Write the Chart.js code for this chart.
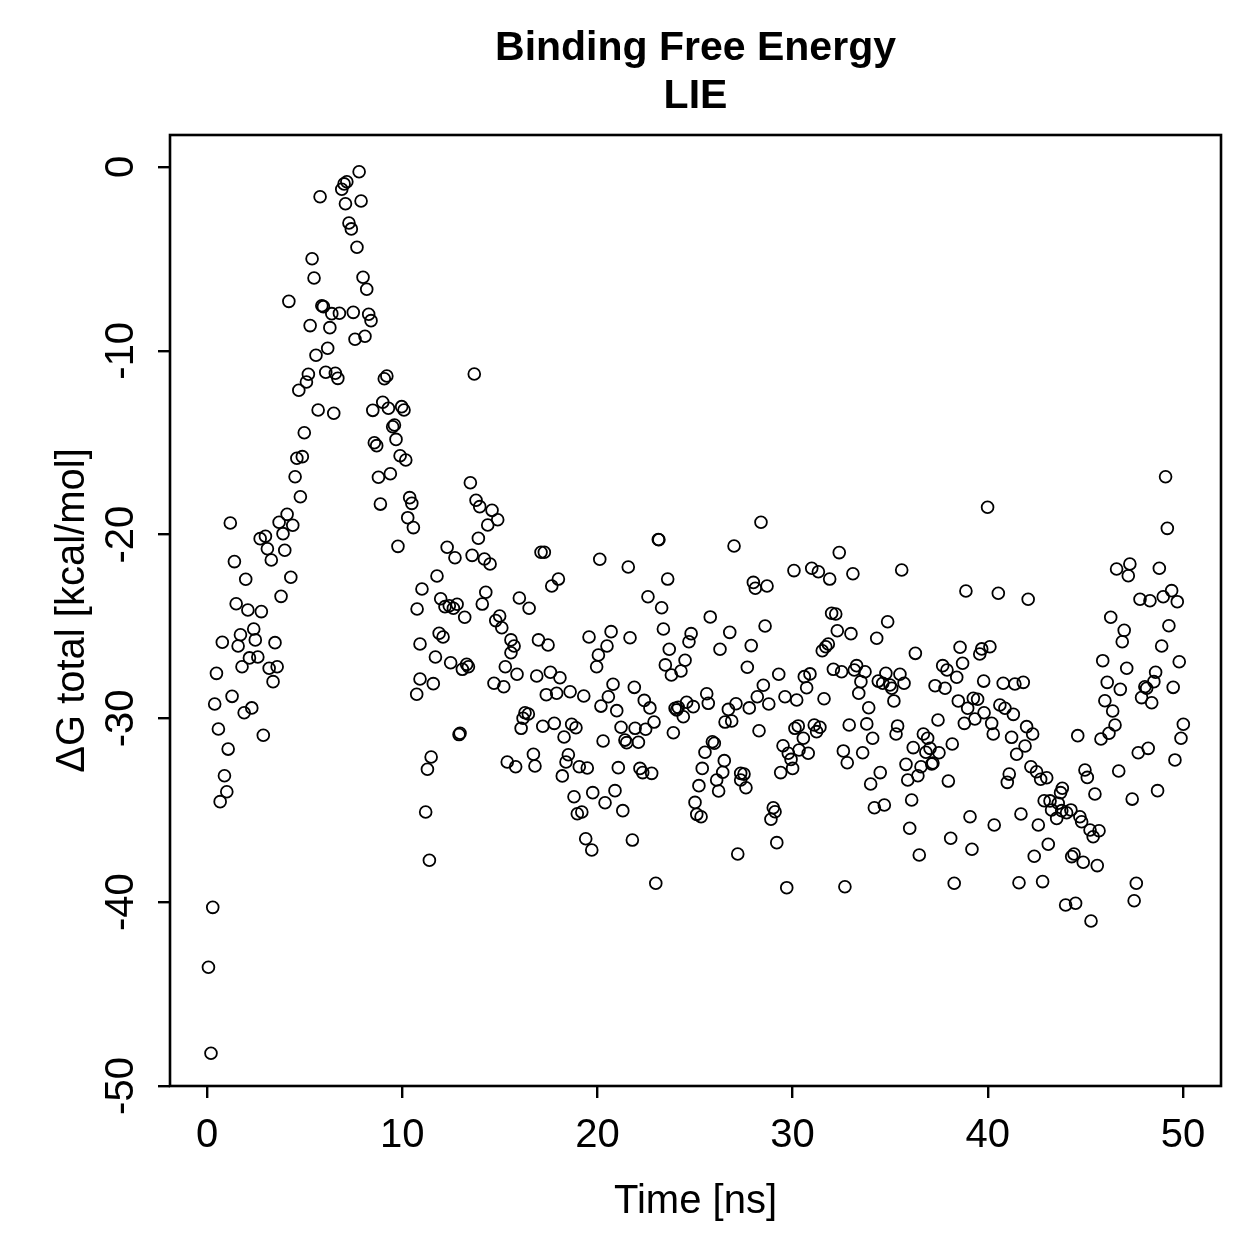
<!DOCTYPE html>
<html><head><meta charset="utf-8">
<script src="https://cdn.jsdelivr.net/npm/chart.js@4/dist/chart.umd.min.js"></script>
<style>html,body{margin:0;padding:0;background:#fff;}canvas{display:block;}</style>
</head><body>
<canvas id="c" width="1259" height="1259"></canvas>
<script>
const titleLines = ['Binding Free Energy', 'LIE'];
const xLabel = 'Time [ns]';
const yLabel = 'ΔG total [kcal/mol]';
const xTicks = [0, 10, 20, 30, 40, 50];
const yTicks = [0, -10, -20, -30, -40, -50];

const timeNs = [
7.79,7.16,7.02,6.90,5.79,7.09,7.89,7.27,7.39,7.68,
5.38,5.48,7.99,8.18,4.19,5.88,5.96,6.39,6.78,7.49,
8.28,8.40,5.28,6.29,7.58,8.09,6.18,5.58,5.19,5.09,
4.70,6.08,6.57,6.70,9.21,9.08,5.69,6.49,9.00,8.49,
9.29,9.97,10.09,9.60,9.51,9.68,8.57,8.69,4.98,4.60,
4.88,9.89,10.18,
4.51,4.78,1.19,4.10,3.69,4.39,3.89,2.72,2.99,3.09,
3.98,3.29,1.40,1.98,4.29,3.79,1.49,2.09,2.78,2.39,
1.71,0.78,1.59,2.47,3.48,2.17,2.60,1.79,3.18,3.59,
3.38,0.48,1.28,0.39,1.90,2.29,0.58,2.88,1.08,8.78,
9.39,8.88,10.38,10.49,10.28,10.57,9.78,
0.89,1.01,0.67,0.29,0.07,0.20,
13.69,13.49,13.78,13.97,14.60,14.89,14.38,13.90,12.30,12.70,
13.58,14.21,14.50,17.11,17.28,11.78,11.01,10.76,11.97,12.19,
12.41,12.62,12.81,13.20,14.28,14.10,14.99,14.79,15.10,15.57,
16.00,16.50,17.66,18.00,16.98,19.57,11.89,12.09,10.91,17.47,
15.73,15.57,11.70,12.48,13.08,13.30,13.39,10.91,11.59,10.74,
15.28,15.88,14.70,15.20,16.89,17.59,18.08,17.38,17.91,18.60,
19.30,16.29,16.46,16.19,16.09,12.96,12.91,17.20,17.79,18.68,
18.90,18.29,11.48,11.29,15.38,15.81,16.72,16.80,18.51,18.39,
19.07,19.48,18.20,19.76,18.80,18.97,19.20,11.20,19.40,19.71,
11.39,
28.38,23.12,23.15,27.00,20.12,21.58,30.07,23.60,27.99,28.09,
28.69,22.59,23.29,25.78,28.59,20.70,21.67,23.38,24.80,24.69,
26.78,20.49,20.05,19.96,23.68,26.28,27.88,24.49,23.48,24.28,
23.79,27.68,29.29,20.80,21.89,20.56,20.18,20.99,22.40,22.69,
23.98,24.14,24.06,24.57,24.91,24.40,25.60,25.68,26.71,27.10,
27.78,28.50,28.19,28.78,29.61,30.21,
21.21,21.93,22.47,22.90,20.29,21.41,21.50,22.10,23.89,26.54,
26.88,28.28,30.12,25.89,25.99,25.51,26.50,29.51,29.78,29.92,
30.00,29.39,21.07,22.18,22.32,22.78,25.37,26.42,26.11,27.34,
27.51,27.34,27.61,26.21,25.20,20.90,20.39,21.30,25.00,25.09,
25.31,29.01,29.10,28.89,21.79,29.19,27.19,22.99,29.70,
39.99,32.39,30.98,31.32,31.90,33.09,35.59,38.88,40.54,32.00,
32.21,34.87,32.29,32.99,34.31,31.83,31.70,31.52,36.29,38.58,
39.69,40.11,39.59,37.69,37.91,38.71,38.41,39.79,32.09,32.51,
33.28,33.16,33.71,33.50,30.60,30.89,30.72,31.61,33.39,33.90,
34.78,34.39,34.62,34.99,35.08,35.50,35.71,35.19,37.30,37.81,
38.49,38.97,39.26,39.48,39.81,40.62,
30.29,31.11,31.40,31.23,30.55,30.33,30.80,32.90,33.80,34.10,
32.60,32.80,33.59,35.38,35.30,36.70,36.92,36.18,37.04,36.83,
37.50,38.18,35.81,36.58,37.13,37.19,36.42,35.90,34.49,34.00,
37.98,37.45,38.80,39.34,40.20,40.28,36.10,34.19,34.70,39.09,
40.33,36.00,38.10,39.19,36.49,32.68,38.28,
49.11,49.20,42.07,46.60,47.28,47.20,48.79,47.80,48.31,48.99,
49.42,49.71,46.30,46.99,46.89,49.28,48.91,49.81,45.89,47.12,
48.60,48.51,48.05,48.14,47.88,48.40,49.50,46.12,46.79,46.00,
46.40,40.79,41.39,41.82,40.88,41.31,
41.22,41.99,42.30,41.91,41.48,44.61,45.80,46.21,46.52,50.02,
49.90,47.71,48.22,49.59,41.10,41.00,42.21,42.50,42.71,43.02,
44.98,45.10,46.71,45.49,43.82,43.73,42.89,43.19,43.61,43.27,
43.53,43.79,44.04,44.26,44.72,44.81,41.70,42.59,45.24,45.70,
45.40,47.40,48.70,43.10,42.38,44.42,44.30,44.89,45.61,41.60,
42.81,47.61,47.50,43.99,44.50,45.29
];

const deltaG = [
-0.26,-0.80,-0.92,-1.21,-1.62,-2.00,-1.85,-3.05,-3.37,-4.37,
-4.99,-6.04,-6.00,-6.65,-7.31,-7.55,-7.60,-7.98,-7.96,-7.91,
-8.01,-8.36,-8.63,-8.74,-9.37,-9.21,-9.86,-10.24,-11.28,-11.70,
-12.15,-11.17,-11.22,-11.50,-11.37,-11.52,-13.22,-13.40,-12.80,-13.24,
-13.13,-13.04,-13.22,-14.04,-14.13,-14.82,-15.00,-15.16,-14.46,-15.85,
-15.76,-15.71,-15.94,
-16.85,-17.94,-19.37,-18.90,-19.33,-19.49,-19.95,-20.22,-20.09,-20.77,
-20.85,-21.38,-21.47,-22.43,-22.32,-23.36,-23.76,-24.10,-24.19,-25.14,
-25.45,-25.86,-26.06,-25.73,-25.88,-26.71,-26.66,-27.19,-27.27,-27.19,
-28.00,-27.55,-28.80,-29.22,-29.69,-29.43,-30.58,-30.92,-31.67,-16.88,
-16.69,-18.34,-17.99,-18.30,-19.08,-19.62,-20.64,
-33.12,-33.99,-34.53,-40.28,-43.54,-48.22,
-11.26,-17.18,-18.13,-18.48,-18.68,-19.19,-19.48,-20.20,-20.69,-21.26,
-21.13,-21.33,-21.60,-20.96,-20.96,-22.25,-22.96,-24.05,-23.49,-23.92,
-23.87,-24.01,-23.79,-24.50,-23.14,-23.78,-24.43,-24.68,-25.07,-25.73,
-23.45,-24.01,-22.80,-22.42,-25.73,-25.57,-25.37,-25.57,-25.95,-26.01,
-26.06,-26.43,-26.66,-26.97,-27.33,-27.06,-27.19,-27.86,-28.11,-28.69,
-27.19,-27.60,-28.09,-28.28,-27.69,-27.49,-27.79,-28.71,-28.63,-28.55,
-28.78,-29.69,-29.76,-29.99,-30.54,-30.81,-30.88,-30.43,-30.27,-30.32,
-30.51,-31.01,-32.10,-32.77,-32.37,-32.63,-31.95,-32.59,-31.98,-32.37,
-32.63,-32.70,-33.13,-34.04,-34.26,-35.19,-35.09,-35.09,-36.55,-37.16,
-37.72,
-19.33,-20.27,-20.28,-20.62,-21.34,-21.76,-21.96,-22.42,-22.60,-22.92,
-22.80,-23.38,-23.98,-24.48,-24.97,-25.28,-25.61,-25.14,-25.39,-25.83,
-25.32,-26.06,-26.55,-27.19,-26.24,-26.24,-26.04,-26.84,-27.09,-27.42,
-27.64,-27.22,-27.60,-28.14,-28.31,-28.82,-29.33,-29.58,-29.02,-29.43,
-29.45,-29.40,-29.54,-29.12,-29.36,-29.91,-28.66,-29.18,-29.51,-29.20,
-29.43,-28.20,-28.82,-29.22,-28.82,-29.00,
-30.48,-30.54,-30.59,-30.20,-31.23,-31.18,-31.32,-31.30,-30.78,-30.20,
-30.14,-30.67,-30.54,-31.27,-31.35,-31.84,-32.30,-31.49,-31.90,-32.23,
-32.72,-32.95,-32.68,-32.72,-32.95,-32.99,-32.72,-32.93,-33.35,-32.99,
-33.03,-33.35,-33.77,-33.95,-33.66,-33.93,-34.59,-35.02,-34.57,-35.22,
-35.35,-34.86,-35.08,-35.49,-36.62,-36.76,-37.38,-38.97,-39.21,
-18.51,-20.98,-21.83,-22.02,-22.42,-22.13,-21.93,-23.07,-23.19,-24.28,
-24.32,-24.74,-25.23,-25.39,-25.64,-25.95,-26.10,-26.32,-26.46,-26.13,
-26.22,-26.10,-26.50,-27.13,-27.37,-27.00,-27.76,-27.97,-27.33,-27.46,
-27.13,-27.37,-27.46,-28.00,-27.73,-27.58,-28.33,-28.93,-28.63,-29.42,
-27.55,-27.97,-28.09,-28.18,-28.36,-27.60,-28.09,-29.05,-28.22,-28.36,
-29.05,-29.45,-28.91,-28.96,-29.69,-29.27,
-30.41,-30.36,-30.48,-30.72,-31.08,-31.72,-31.90,-30.36,-30.30,-31.08,
-31.77,-32.41,-31.87,-30.41,-30.85,-30.85,-31.08,-31.59,-31.63,-31.84,
-31.87,-31.39,-32.50,-32.63,-32.48,-32.43,-33.12,-33.35,-32.95,-33.57,
-33.41,-30.09,-30.27,-30.03,-30.27,-30.85,-34.44,-34.86,-34.71,-35.35,
-35.80,-35.98,-36.52,-37.12,-37.43,-39.16,-38.97,
-16.85,-19.66,-23.52,-21.87,-21.60,-22.24,-21.83,-23.52,-23.60,-23.38,
-23.05,-23.65,-24.50,-25.21,-25.83,-24.96,-26.06,-26.92,-26.86,-27.27,
-27.49,-28.00,-28.28,-28.36,-28.87,-29.15,-28.31,-28.04,-28.42,-29.04,
-29.60,-28.09,-28.13,-28.04,-29.45,-29.78,
-31.03,-30.45,-30.85,-31.50,-31.95,-30.94,-31.12,-30.81,-30.36,-30.32,
-31.08,-31.87,-31.63,-32.26,-33.03,-33.48,-32.63,-32.90,-33.31,-33.23,
-32.81,-33.21,-32.86,-34.11,-33.80,-34.04,-34.48,-34.49,-34.62,-34.98,
-35.44,-35.02,-35.13,-34.98,-35.35,-35.62,-35.20,-35.80,-36.07,-36.11,
-36.44,-34.39,-33.93,-36.85,-37.50,-37.38,-37.52,-37.83,-38.01,-38.94,
-38.88,-38.97,-39.92,-40.15,-40.06,-41.02
];

const FONT = "'Liberation Sans', Arial, Helvetica, sans-serif";
const points = timeNs.map((t, i) => ({ x: t, y: deltaG[i] }));

const framePlugin = {
  id: 'frame',
  afterDatasetsDraw(chart) {
    const { ctx, chartArea: a } = chart;
    ctx.save();
    ctx.strokeStyle = '#000';
    ctx.lineWidth = 2.6;
    ctx.strokeRect(a.left, a.top, a.right - a.left, a.bottom - a.top);
    ctx.restore();
  }
};

const titlePlugin = {
  id: 'rtitle',
  afterDraw(chart) {
    const { ctx, chartArea: a } = chart;
    const cx = (a.left + a.right) / 2;
    ctx.save();
    ctx.fillStyle = '#000';
    ctx.font = 'bold 41px ' + FONT;
    ctx.textAlign = 'center';
    ctx.textBaseline = 'alphabetic';
    ctx.fillText(titleLines[0], cx, 60);
    ctx.fillText(titleLines[1], cx, 108);
    ctx.restore();
  }
};

const yTickLabelPlugin = {
  id: 'yTickLabels',
  afterDraw(chart) {
    const s = chart.scales.y, ctx = chart.ctx;
    ctx.save();
    ctx.fillStyle = '#000';
    ctx.font = '40px ' + FONT;
    ctx.textAlign = 'center';
    ctx.textBaseline = 'alphabetic';
    s.ticks.forEach(t => {
      const y = s.getPixelForValue(t.value);
      ctx.save();
      ctx.translate(133, y);
      ctx.rotate(-Math.PI / 2);
      ctx.fillText(String(t.value), 0, 0);
      ctx.restore();
    });
    ctx.restore();
  }
};

new Chart(document.getElementById('c'), {
  type: 'scatter',
  data: {
    datasets: [{
      data: points,
      pointStyle: 'circle',
      pointRadius: 5.9,
      pointHoverRadius: 5.9,
      borderColor: '#000',
      backgroundColor: 'rgba(0,0,0,0)',
      borderWidth: 1.8
    }]
  },
  options: {
    responsive: false,
    animation: false,
    events: [],
    layout: { padding: { left: 0, right: 38, top: 135, bottom: 0 } },
    plugins: { legend: { display: false }, tooltip: { enabled: false }, title: { display: false } },
    scales: {
      x: {
        type: 'linear', min: -1.9, max: 51.95,
        afterBuildTicks: s => { s.ticks = xTicks.map(v => ({ value: v })); },
        afterFit: s => { s.height = 173; },
        grid: { drawOnChartArea: false, drawTicks: true, tickLength: 12, color: '#000', lineWidth: 2.4 },
        border: { display: false },
        ticks: { color: '#000', font: { family: FONT, size: 40 }, padding: 14, maxRotation: 0, minRotation: 0, autoSkip: false },
        title: { display: true, text: xLabel, color: '#000', font: { family: FONT, size: 40 }, padding: { top: 0, bottom: 33 } }
      },
      y: {
        type: 'linear', min: -50, max: 1.74,
        afterBuildTicks: s => { s.ticks = yTicks.map(v => ({ value: v })); },
        afterFit: s => { s.width = 170; },
        grid: { drawOnChartArea: false, drawTicks: true, tickLength: 12, color: '#000', lineWidth: 2.4 },
        border: { display: false },
        ticks: { display: false },
        title: { display: true, text: yLabel, color: '#000', font: { family: FONT, size: 40 }, padding: { top: 49, bottom: 0 } }
      }
    }
  },
  plugins: [framePlugin, titlePlugin, yTickLabelPlugin]
});
</script>
</body></html>
